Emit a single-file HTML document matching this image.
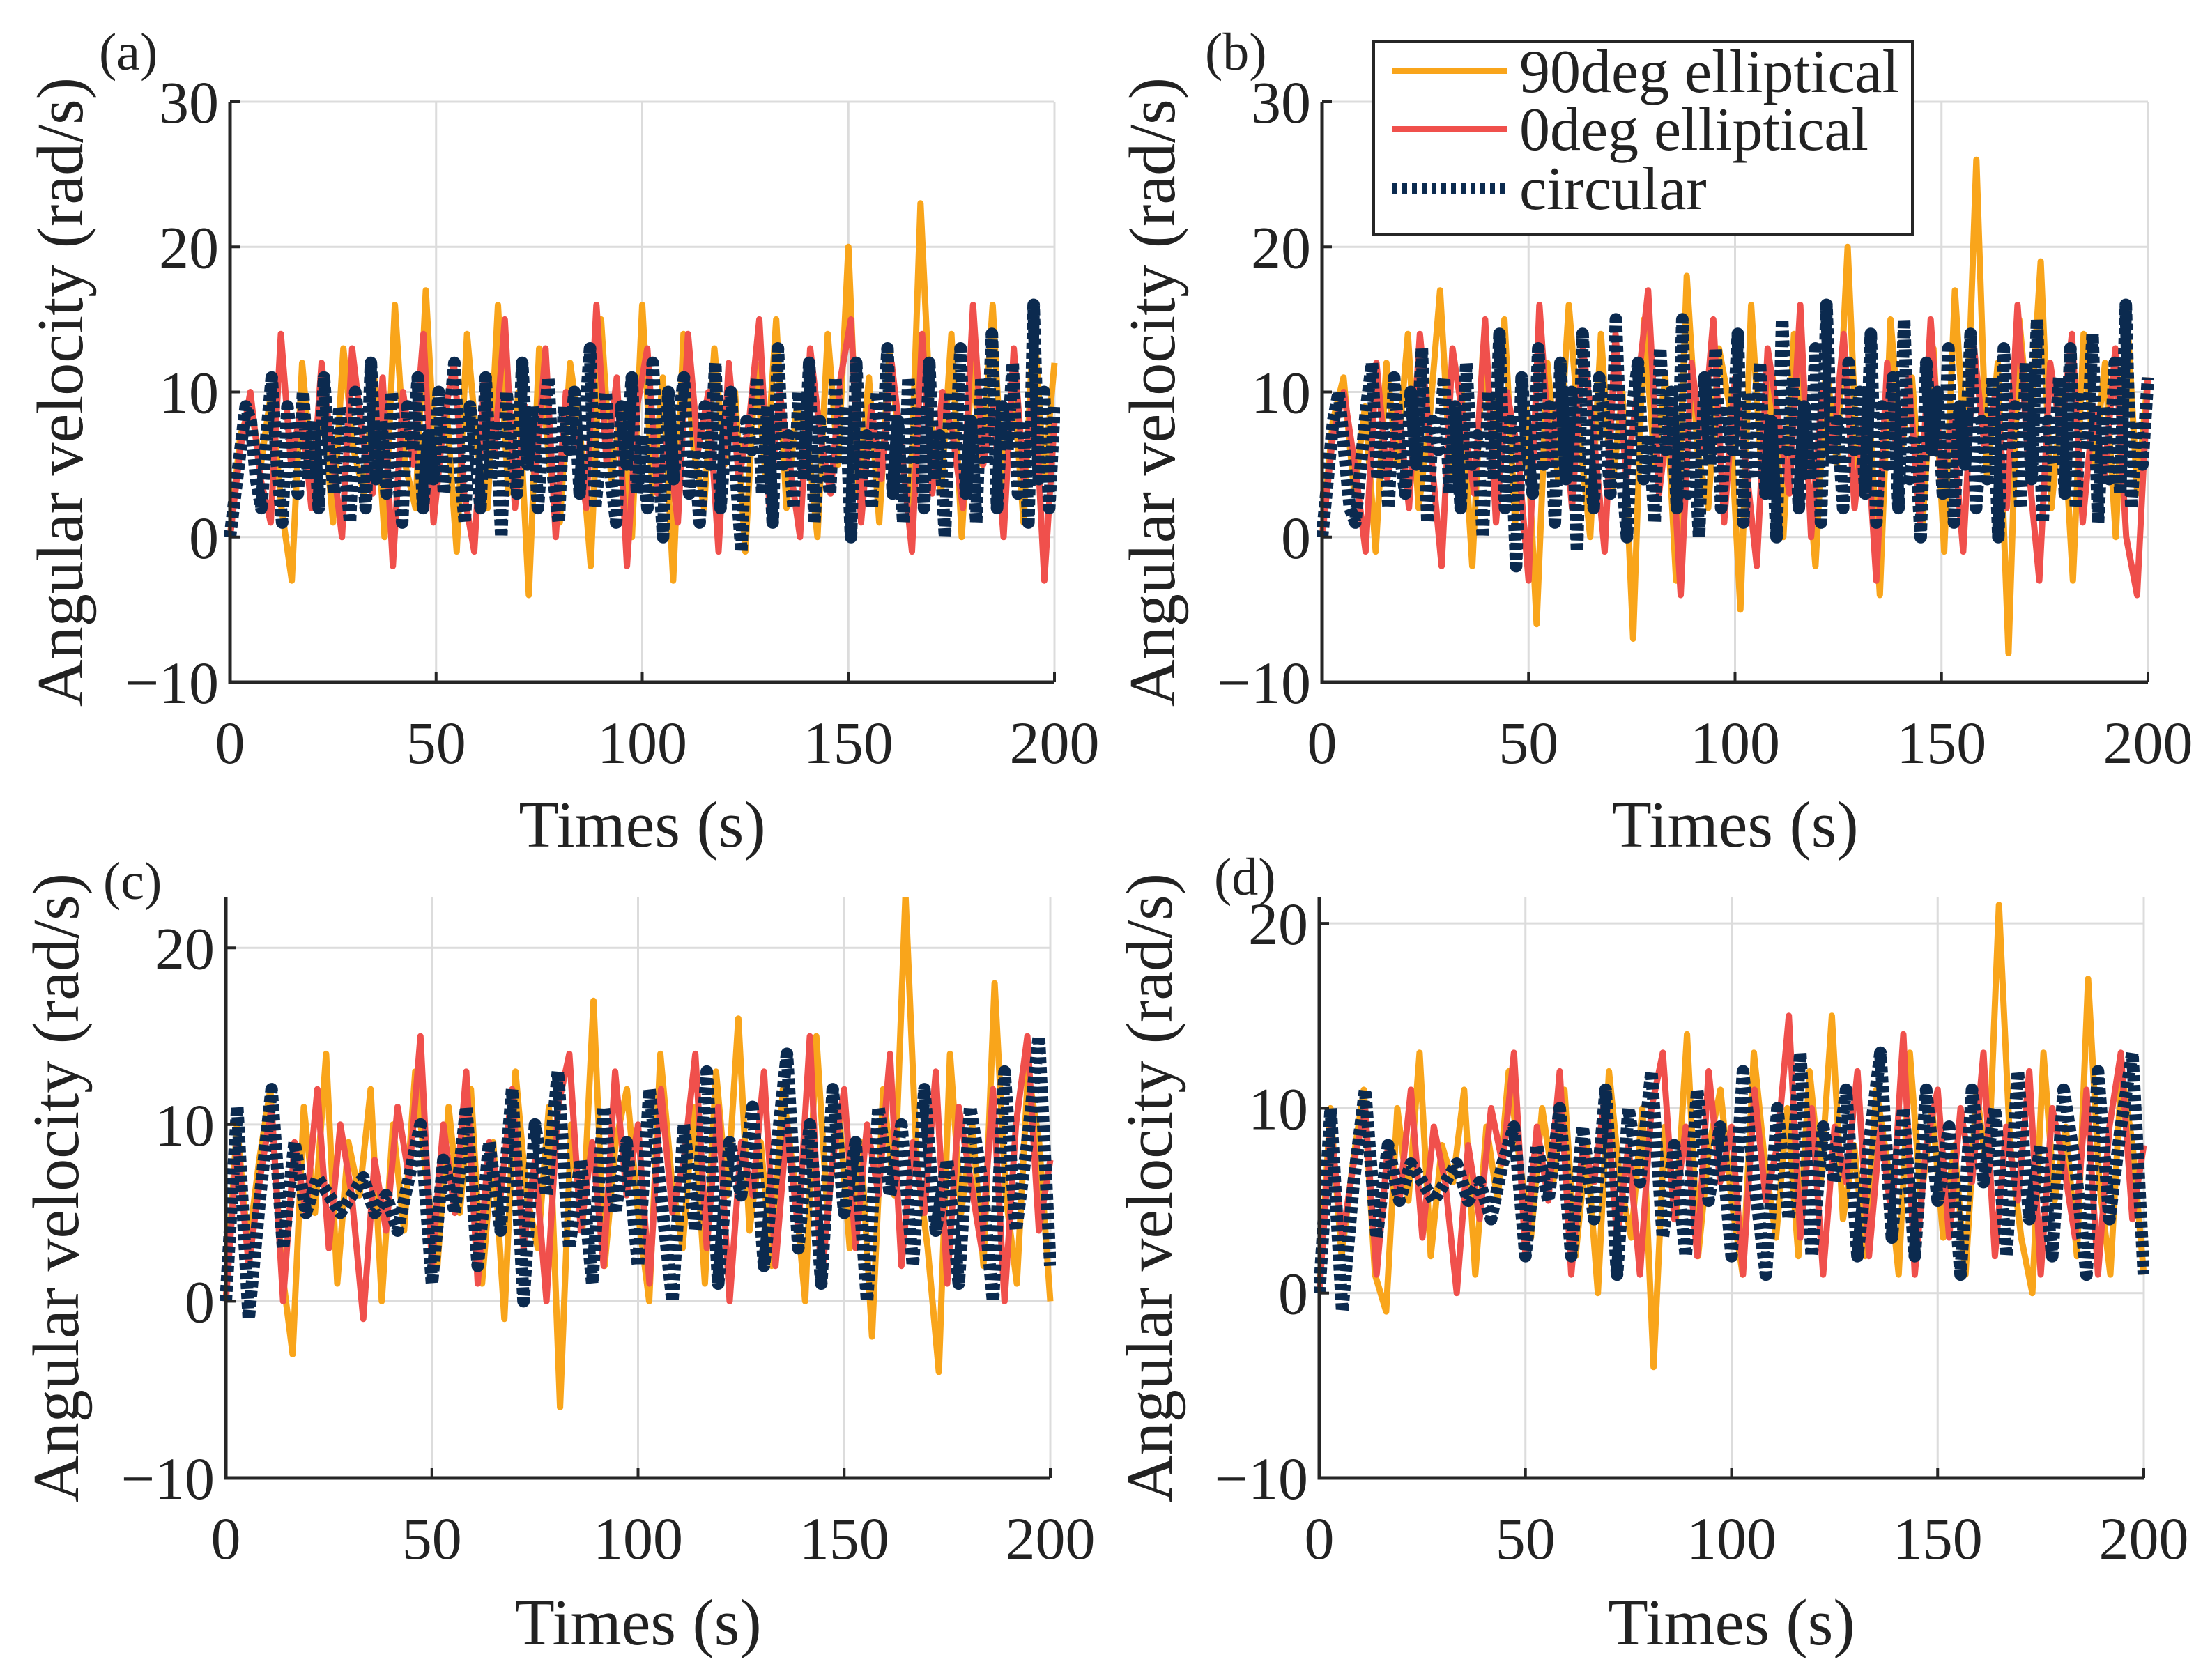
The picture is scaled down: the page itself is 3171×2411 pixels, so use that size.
<!DOCTYPE html>
<html><head><meta charset="utf-8"><style>
html,body{margin:0;padding:0;background:#fff}
svg{display:block;font-family:"Liberation Serif","DejaVu Serif","Times New Roman",serif}
svg text{font-family:"Liberation Serif","DejaVu Serif","Times New Roman",serif;fill:#222}
</style></head><body>
<svg id="fig" width="3171" height="2411" viewBox="0 0 3171 2411" xmlns="http://www.w3.org/2000/svg" font-family="Liberation Serif, DejaVu Serif, serif"></svg>
<script>
const xTicks=[0,50,100,150,200];
const yTicksAB=[-10,0,10,20,30];
const yTicksCD=[-10,0,10,20];
const seriesNames=["90deg elliptical","0deg elliptical","circular"];

const aOrange=[0,7,9,5,10,2,-3,12,4,9,1,13,6,3,11,0,16,5,2,17,4,9,-1,14,6,2,16,3,10,-4,13,5,1,12,7,-2,15,4,9,0,16,3,11,-3,14,6,2,13,5,10,-1,12,4,15,2,9,7,0,14,5,20,3,11,1,13,6,2,23,8,3,14,0,12,5,16,3,11,1,15,4,12];
const aRed=[0,6,10,4,1,14,5,9,2,12,6,0,13,7,3,11,-2,10,5,14,1,8,12,3,-1,11,6,15,2,9,4,13,0,10,7,2,16,5,11,-2,9,13,3,7,1,14,6,10,-1,12,4,8,15,2,10,5,0,13,7,3,11,15,1,9,4,12,6,-1,14,3,10,7,2,16,5,9,0,13,4,11,-3,8];
const aNavy=[0,3,6,9,8,4,2,7,11,5,1,9,6,3,10,4,8,2,11,6,3,9,5,1,10,7,2,12,4,8,3,10,5,1,9,6,11,2,7,4,10,3,8,12,5,1,9,6,2,11,4,8,0,10,6,3,12,5,9,2,7,11,4,1,9,6,10,3,8,13,2,6,10,4,1,9,5,11,3,7,2,12,6,0,10,4,8,11,3,6,1,9,5,12,2,7,10,4,-1,8,6,11,3,9,1,13,5,7,2,10,4,12,1,8,6,3,11,5,9,0,12,4,7,2,10,6,13,3,8,1,11,5,9,2,12,4,7,0,10,6,13,3,8,1,11,5,14,2,9,6,12,3,8,1,16,4,10,2,9];

const bOrange=[0,8,11,3,9,-1,12,5,14,2,8,17,4,10,-2,13,6,15,1,9,-6,12,4,16,7,0,14,3,10,-7,15,5,11,-3,18,6,2,13,9,-5,16,4,11,0,14,7,-2,12,5,20,3,9,-4,15,6,11,1,13,-1,17,5,26,4,12,-8,15,7,19,2,10,-3,14,5,12,0,16,3,11];
const bRed=[0,7,10,5,-1,12,4,9,2,14,6,-2,13,8,3,15,1,10,6,-3,16,5,11,2,13,7,-1,14,4,10,17,3,9,-4,12,6,15,1,11,5,-2,13,8,3,16,0,10,6,14,2,9,-3,12,5,11,1,15,4,8,-1,13,6,10,2,16,5,-3,12,7,14,1,9,4,13,0,-4,11];
const bNavy=[0,4,8,10,6,2,1,5,9,12,4,8,2,11,6,3,10,5,13,1,8,6,11,3,9,2,12,5,7,0,10,4,14,2,8,-2,11,6,3,13,5,9,1,12,4,10,-1,14,6,2,11,8,3,15,5,0,9,12,4,7,1,13,6,10,2,15,3,8,0,11,5,13,2,9,6,14,1,10,4,12,3,8,0,15,6,11,2,9,4,13,1,16,5,8,2,12,6,10,3,14,1,9,5,11,2,15,4,7,0,12,6,10,3,13,1,9,5,14,2,8,4,11,0,13,6,9,2,12,4,15,1,8,5,11,3,13,2,10,6,14,1,9,4,12,3,16,2,8,5,11];

const cOrange=[0,10,3,8,12,2,-3,11,5,14,1,9,6,12,0,10,4,13,7,2,11,5,12,1,9,-1,13,6,3,11,-6,10,4,17,2,9,12,5,0,14,7,3,11,1,13,6,16,4,9,2,12,7,0,15,5,11,3,9,-2,12,6,23,8,3,-4,14,5,10,2,18,6,1,13,9,0];
const cRed=[0,9,2,7,11,0,9,5,12,3,10,6,-1,8,4,11,7,15,2,10,5,13,1,9,6,12,3,8,0,11,14,4,9,2,13,6,10,1,12,5,8,14,3,11,0,9,6,13,2,10,4,15,1,8,12,3,10,6,14,2,9,5,13,1,11,7,3,12,0,10,15,4,8];
const cNavy=[0,11,-1,6,12,3,9,5,7,6,5,6,7,5,6,4,7,10,1,8,5,11,2,9,4,12,0,10,6,13,3,8,1,11,5,9,2,12,6,0,10,4,13,1,9,6,11,2,8,14,3,10,1,12,5,9,0,11,6,10,2,12,4,8,1,11,7,0,13,4,9,15,2];

const dOrange=[0,10,2,7,11,1,-1,10,5,13,2,8,6,11,1,9,5,12,7,3,10,6,11,2,8,0,12,6,3,10,-4,9,4,14,2,8,11,5,1,13,7,3,10,2,12,6,15,4,8,2,11,7,1,13,5,10,3,8,1,11,6,21,8,3,0,13,5,9,2,17,6,1,12,8,1];
const dRed=[0,9,3,7,10,1,8,5,11,3,9,6,0,8,4,10,7,13,2,9,5,12,1,8,6,11,3,8,1,10,13,4,9,2,12,6,9,1,11,5,8,15,3,10,1,9,6,12,2,9,4,14,1,8,11,3,10,6,13,2,9,5,12,1,10,7,3,11,1,9,13,4,8];
const dNavy=[0,10,-1,6,11,3,8,5,7,6,5,6,7,5,6,4,7,9,2,8,5,10,2,9,4,11,1,10,6,12,3,8,2,11,5,9,2,12,6,1,10,4,13,2,9,6,11,2,8,13,3,10,2,11,5,9,1,11,6,10,2,12,4,8,2,11,7,1,12,4,9,13,1];

const NS="http://www.w3.org/2000/svg";
const svg=document.getElementById('fig');
const FF="Liberation Serif, DejaVu Serif, serif";
function mk(tag,attrs,parent){const e=document.createElementNS(NS,tag);for(const k in attrs)e.setAttribute(k,attrs[k]);if(tag==='text')e.setAttribute('font-family',FF);(parent||svg).appendChild(e);return e;}

const panels=[
 {id:'a',x0:330,x1:1513,yTop:146,yBot:979,ymin:-10,ymax:30,yt:yTicksAB,data:[aOrange,aRed,aNavy],lx:142,ly:100,xl:1215},
 {id:'b',x0:1897,x1:3082,yTop:146,yBot:979,ymin:-10,ymax:30,yt:yTicksAB,data:[bOrange,bRed,bNavy],lx:1729,ly:100,xl:1215},
 {id:'c',x0:324,x1:1507,yTop:1288,yBot:2121,ymin:-10,ymax:22.85,yt:yTicksCD,data:[cOrange,cRed,cNavy],lx:148,ly:1290,xl:2360},
 {id:'d',x0:1893,x1:3076,yTop:1288,yBot:2121,ymin:-10,ymax:21.4,yt:yTicksCD,data:[dOrange,dRed,dNavy],lx:1742,ly:1284,xl:2360}
];
const colors=["#f9a51b","#f0504c","#0b2a4f"];
const widths=[9,9,18];
const dashes=["none","none","9 5"];

panels.forEach(p=>{
  const g=mk('g',{});
  
  
  const xs=v=>p.x0+(v-0)/(200-0)*(p.x1-p.x0);
  const ys=v=>p.yBot-(v-p.ymin)/(p.ymax-p.ymin)*(p.yBot-p.yTop);
  xTicks.forEach(t=>{const l=mk('line',{x1:xs(t),x2:xs(t),y1:p.yTop,y2:p.yBot,stroke:'#dcdcdc','stroke-width':3},g);
    });
  p.yt.forEach(t=>{const l=mk('line',{x1:p.x0,x2:p.x1,y1:ys(t),y2:ys(t),stroke:'#dcdcdc','stroke-width':3},g);
    });
  const cp=mk('clipPath',{id:'clip'+p.id},g);
  mk('rect',{x:p.x0-8,y:p.yTop,width:p.x1-p.x0+16,height:p.yBot-p.yTop},cp);
  p.data.forEach((arr,si)=>{
    const n=arr.length;
    const pts=arr.map((v,i)=>xs(i*200/(n-1)).toFixed(1)+','+ys(v).toFixed(1)).join(' ');
    const pl=mk('polyline',{points:pts,fill:'none',stroke:colors[si],'stroke-width':widths[si],'stroke-dasharray':dashes[si],'stroke-linejoin':'round','clip-path':'url(#clip'+p.id+')'},g);
    
    
  });
  const ax=mk('path',{d:`M${p.x0},${p.yTop} L${p.x0},${p.yBot} L${p.x1},${p.yBot}`,fill:'none',stroke:'#262626','stroke-width':5},g);
  
  xTicks.forEach(t=>{
    mk('line',{x1:xs(t),x2:xs(t),y1:p.yBot,y2:p.yBot-14,stroke:'#262626','stroke-width':4},g);
    const tx=mk('text',{x:xs(t),y:p.yBot+116,'font-size':86,'text-anchor':'middle'},g);
    tx.textContent=t;
    
  });
  p.yt.forEach(t=>{
    mk('line',{x1:p.x0,x2:p.x0+14,y1:ys(t),y2:ys(t),stroke:'#262626','stroke-width':4},g);
    const tx=mk('text',{x:p.x0-16,y:ys(t)+30,'font-size':86,'text-anchor':'end'},g);
    tx.textContent=t<0?'\u2212'+(-t):t;
    
  });
  const xl=mk('text',{x:(p.x0+p.x1)/2,y:p.xl,'font-size':94,'text-anchor':'middle'},g);
  xl.textContent='Times (s)';
  
  const cy=(p.yTop+p.yBot)/2;
  const ylx=p.x0-212;
  const yl=mk('text',{x:ylx,y:cy,'font-size':94,'text-anchor':'middle',transform:`rotate(-90 ${ylx} ${cy})`},g);
  yl.textContent='Angular velocity (rad/s)';
  
  const lt=mk('text',{x:p.lx,y:p.ly,'font-size':76},g);
  lt.textContent='('+p.id+')';
  
});

const lg=mk('g',{});


mk('rect',{x:1971,y:60,width:773,height:277,fill:'#fff',stroke:'#262626','stroke-width':4},lg);
const rowsY=[102,185,270];
seriesNames.forEach((nm,i)=>{
  const e=mk('g',{},lg);
  
  
  mk('line',{x1:1998,x2:2163,y1:rowsY[i],y2:rowsY[i],stroke:colors[i],'stroke-width':i==2?16:8,'stroke-dasharray':i==2?'7 7':'none'},e);
  const t=mk('text',{x:2180,y:rowsY[i]+30,'font-size':88},e);
  t.textContent=nm;
});
</script>
</body></html>
